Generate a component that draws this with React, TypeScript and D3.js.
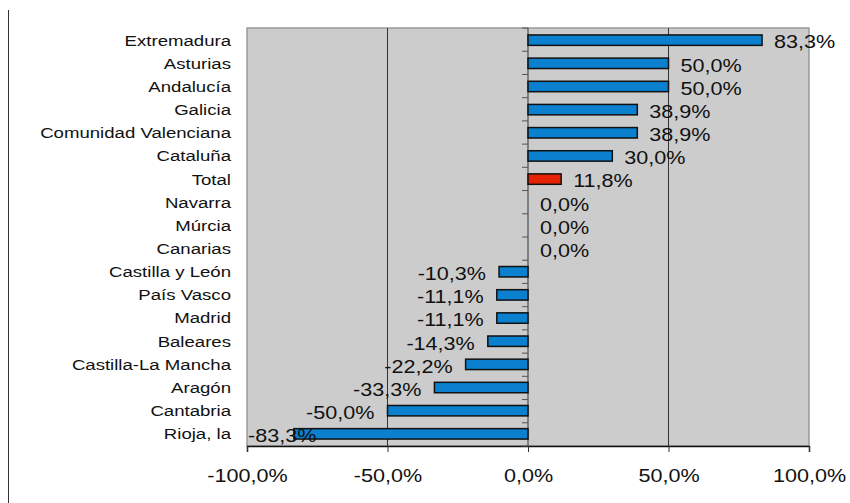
import React, { useEffect, useRef } from 'react';
import * as d3 from 'd3';

const regions = [
  'Extremadura', 'Asturias', 'Andalucía', 'Galicia', 'Comunidad Valenciana', 'Cataluña',
  'Total', 'Navarra', 'Múrcia', 'Canarias', 'Castilla y León', 'País Vasco', 'Madrid',
  'Baleares', 'Castilla-La Mancha', 'Aragón', 'Cantabria', 'Rioja, la'
];
const values = [83.3, 50.0, 50.0, 38.9, 38.9, 30.0, 11.8, 0, 0, 0, -10.3, -11.1, -11.1, -14.3, -22.2, -33.3, -50.0, -83.3];
const xTicks = [-100, -50, 0, 50, 100];

const fmt = (v: number) => v.toFixed(1).replace('.', ',') + '%';
const FONT = 'Liberation Sans, Arial, sans-serif';
const SX = 1.2; // text in the source is a bit stretched horizontally

const App = () => {
  const ref = useRef<SVGSVGElement>(null);

  useEffect(() => {
    const svg = d3.select(ref.current);
    svg.selectAll('*').remove();
    const left = 247, right = 809, top = 28, bottom = 446;

    const x = d3.scaleLinear().domain([-100, 100]).range([left, right]);
    const y = d3.scaleBand().domain(regions).range([top, bottom]).paddingInner(0.55).paddingOuter(0.3);
    const band = (bottom - top) / regions.length;

    // outer frame line at far left
    svg.append('line').attr('x1', 8.5).attr('x2', 8.5).attr('y1', 10).attr('y2', 503)
      .attr('stroke', '#333').attr('stroke-width', 1);

    svg.append('rect').attr('x', left).attr('y', top).attr('width', right - left).attr('height', bottom - top)
      .attr('fill', '#cccccc').attr('stroke', '#9a9a9a').attr('stroke-width', 1.5);

    // grid lines
    svg.append('g').selectAll('line').data([-50, 50]).join('line')
      .attr('x1', d => x(d)).attr('x2', d => x(d)).attr('y1', top).attr('y2', bottom)
      .attr('stroke', '#333').attr('stroke-width', 1);

    // bottom axis
    const ax = svg.append('g').attr('transform', `translate(0,${bottom})`)
      .call(d3.axisBottom(x).tickValues(xTicks).tickSize(6).tickPadding(17).tickFormat(d => fmt(+d)));
    ax.select('.domain').attr('stroke', '#111').attr('stroke-width', 1.5);
    ax.selectAll('.tick line').attr('stroke', '#333');
    ax.selectAll('text').attr('font-family', FONT).attr('font-size', 18).attr('fill', '#111')
      .attr('transform', `scale(${SX},1)`);

    // zero axis with minor ticks at category boundaries
    svg.append('line').attr('x1', x(0)).attr('x2', x(0)).attr('y1', top).attr('y2', bottom)
      .attr('stroke', '#333').attr('stroke-width', 1);
    svg.append('g').selectAll('line').data(d3.range(regions.length + 1)).join('line')
      .attr('x1', x(0) - 6).attr('x2', x(0)).attr('y1', i => top + i * band).attr('y2', i => top + i * band)
      .attr('stroke', '#555').attr('stroke-width', 1);

    // bars
    svg.append('g').selectAll('rect').data(values.map((v, i) => ({ v, name: regions[i] })).filter(d => d.v !== 0))
      .join('rect')
      .attr('x', d => x(Math.min(0, d.v)))
      .attr('y', d => y(d.name) as number)
      .attr('width', d => Math.abs(x(d.v) - x(0)))
      .attr('height', y.bandwidth())
      .attr('fill', d => (d.name === 'Total' ? '#e52206' : '#0a80cf'))
      .attr('stroke', '#111').attr('stroke-width', 1.5);

    // category labels
    svg.append('g').selectAll('text').data(regions).join('text')
      .attr('transform', d => `translate(231,${(y(d) as number) + y.bandwidth() / 2}) scale(${SX},1)`)
      .attr('dy', '0.35em').attr('text-anchor', 'end')
      .attr('font-family', FONT).attr('font-size', 15.5).attr('fill', '#111')
      .text(d => d);

    // value labels
    svg.append('g').selectAll('text').data(values).join('text')
      .each(function (d, i) {
        const t = d3.select(this);
        const cy = (y(regions[i]) as number) + y.bandwidth() / 2 + 2;
        t.attr('dy', '0.35em')
          .attr('font-family', FONT).attr('font-size', 18).attr('fill', '#111')
          .text(fmt(d));
        let tx: number;
        if (d >= 0) {
          tx = x(d) + 12;
          t.attr('text-anchor', 'start');
        } else {
          const xe = x(d) - 13;
          if (xe - 72 < left) {
            tx = left + 1;
            t.attr('text-anchor', 'start');
          } else {
            tx = xe;
            t.attr('text-anchor', 'end');
          }
        }
        t.attr('transform', `translate(${tx},${cy}) scale(${SX},1)`);
      });
  }, []);

  return (
    <svg ref={ref} width={850} height={503} style={{ position: 'absolute', left: 0, top: 0, background: '#fff' }} />
  );
};

export default App;
